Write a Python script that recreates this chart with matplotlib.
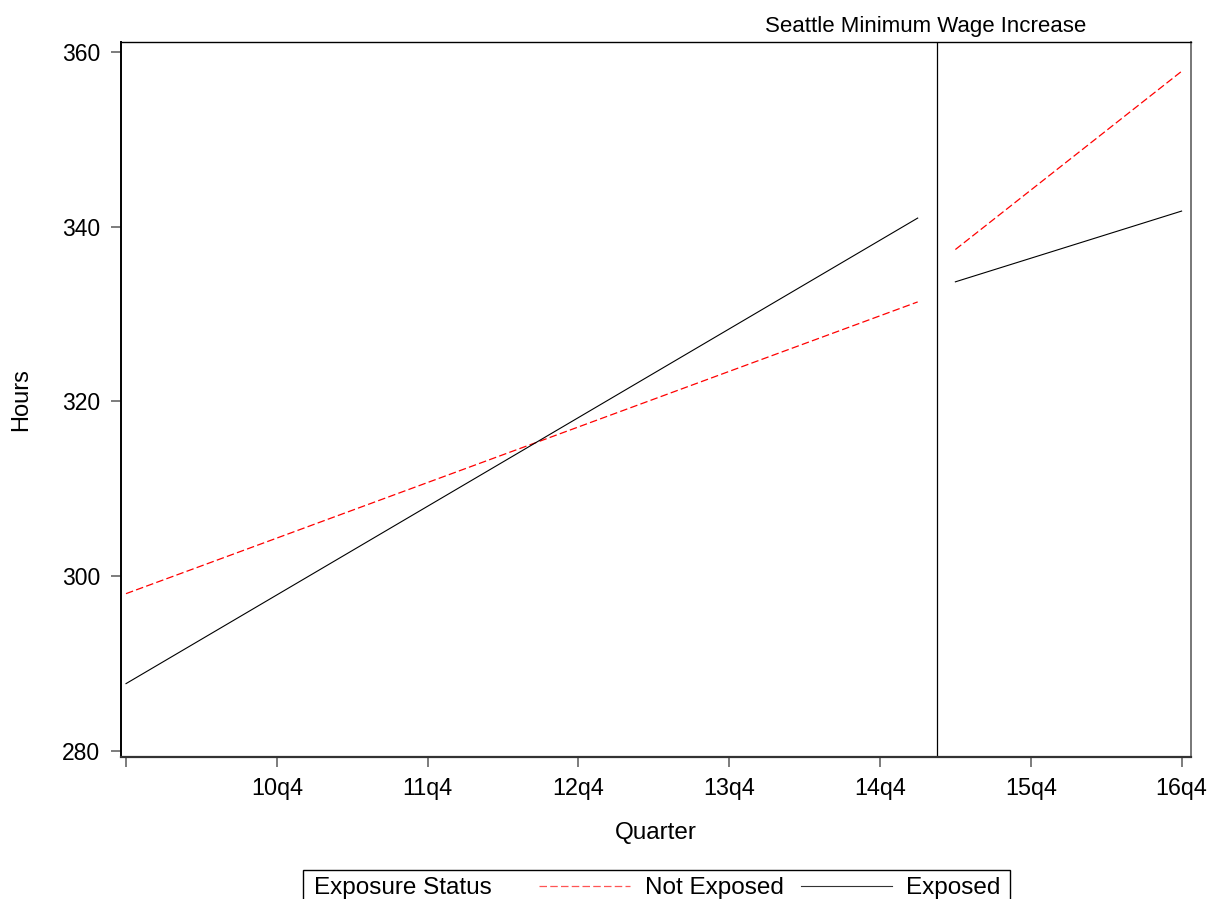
import matplotlib
matplotlib.use("Agg")
import matplotlib.pyplot as plt
from matplotlib.lines import Line2D
from matplotlib.patches import Rectangle
import matplotlib.transforms as mtransforms

plt.rcParams['font.family'] = ['Liberation Sans', 'DejaVu Sans']

# Quarter index: 0 = 09q4, 4 = 10q4, ... 28 = 16q4
pre_quarters = [0, 21]          # 09q4 .. 15q1
post_quarters = [22, 28]        # 15q2 .. 16q4
increase_quarter = 21.5         # between 15q1 and 15q2

not_exposed_pre = [298.0, 331.4]
exposed_pre = [287.7, 341.0]
not_exposed_post = [337.4, 357.8]
exposed_post = [333.7, 341.8]

tick_positions = [0, 4, 8, 12, 16, 20, 24, 28]
tick_labels = ['', '10q4', '11q4', '12q4', '13q4', '14q4', '15q4', '16q4']
y_ticks = [280, 300, 320, 340, 360]

W, H = 1210, 899
fig = plt.figure(figsize=(W / 100, H / 100), dpi=100)
ax_left, ax_right, ax_top, ax_bottom = 120.5, 1191, 42.5, 757
ax = fig.add_axes([ax_left / W, 1 - ax_bottom / H,
                   (ax_right - ax_left) / W, (ax_bottom - ax_top) / H])

red_dash = (0, (6, 2.6))
ax.plot(pre_quarters, not_exposed_pre, color='red', lw=0.9, ls=red_dash)
ax.plot(pre_quarters, exposed_pre, color='black', lw=0.8)
ax.plot(post_quarters, not_exposed_post, color='red', lw=0.9, ls=red_dash)
ax.plot(post_quarters, exposed_post, color='black', lw=0.8)
ax.axvline(increase_quarter, color='black', lw=0.9)

ax.set_xlim(-0.146, 28.25)
ax.set_ylim(279.3, 361.1)
ax.set_xticks(tick_positions)
ax.set_xticklabels(tick_labels)
ax.set_yticks(y_ticks)

for s in ax.spines.values():
    s.set_linewidth(1.0)
    s.set_color('black')
ax.spines['bottom'].set_linewidth(1.6)
ax.spines['bottom'].set_color('#333333')
ax.spines['left'].set_linewidth(1.4)
ax.spines['right'].set_color('#777777')
ax.spines['right'].set_linewidth(1.4)

ax.tick_params(axis='both', direction='out', length=7.5, width=1.2,
               color='#666666', labelcolor='black', pad=7)
ax.tick_params(axis='x', labelsize=16.8)
ax.tick_params(axis='y', labelsize=16.5)

ax.set_xlabel('Quarter', fontsize=17.5)
ax.set_ylabel('Hours', fontsize=17)
ax.xaxis.set_label_coords(0.5, -0.091)
ax.yaxis.set_label_coords(-0.083, 0.5)

trans = mtransforms.blended_transform_factory(ax.transData, ax.transAxes)
ax.text(21.2, 1 + 10.5 / (ax_bottom - ax_top), 'Seattle Minimum Wage Increase',
        transform=trans, ha='center', va='baseline', fontsize=16)

# Legend drawn along the bottom of the figure
def fx(px):
    return px / W

def fy(py):
    return 1 - py / H

fig.add_artist(Rectangle((fx(302.5), fy(910)), fx(1010) - fx(302.5), fy(869.5) - fy(910),
                         transform=fig.transFigure, fill=False, edgecolor='black', lw=1.0))
legend_fs = 17.5
text_base = 894
fig.text(fx(314), fy(text_base), 'Exposure Status', fontsize=legend_fs, va='baseline', ha='left')
fig.add_artist(Line2D([fx(539), fx(630)], [fy(885.5), fy(885.5)], transform=fig.transFigure,
                      color='#ff5555', lw=0.9, ls=red_dash))
fig.text(fx(645), fy(text_base), 'Not Exposed', fontsize=legend_fs, va='baseline', ha='left')
fig.add_artist(Line2D([fx(801), fx(892)], [fy(886), fy(886)], transform=fig.transFigure,
                      color='#333333', lw=0.8))
fig.text(fx(906), fy(text_base), 'Exposed', fontsize=legend_fs, va='baseline', ha='left')

fig.savefig('out.png', dpi=100)
